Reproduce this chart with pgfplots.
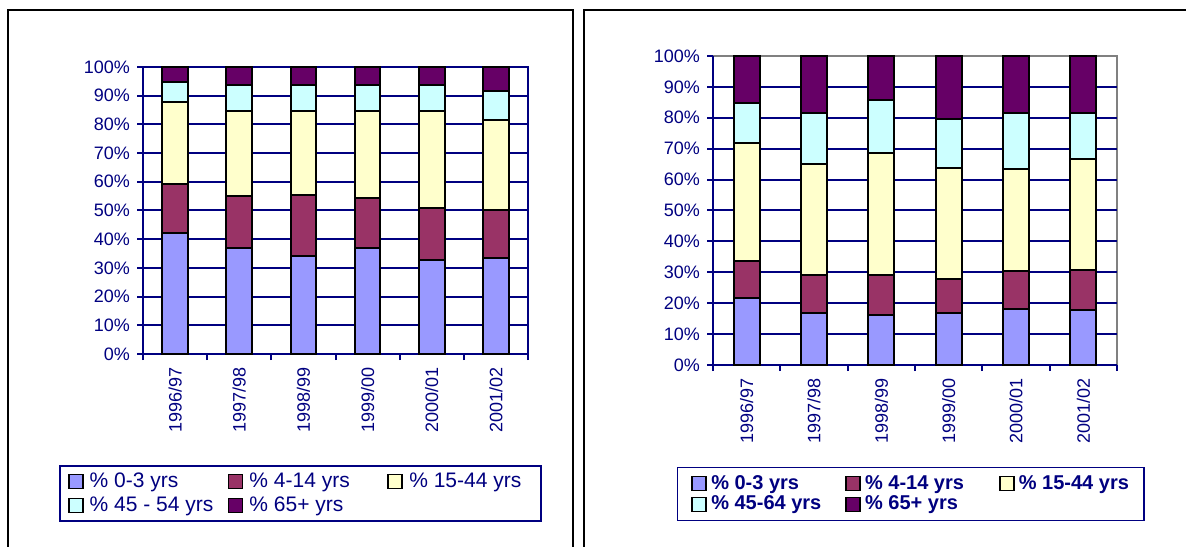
\documentclass[border=0pt]{standalone}
\usepackage{fontspec}
\setmainfont{Liberation Sans}
\usepackage{pgfplots}
\usepackage{pgfplotstable}
\pgfplotsset{compat=1.18}
\definecolor{navyc}{RGB}{0,0,128}
\definecolor{cA}{RGB}{153,153,255}
\definecolor{cB}{RGB}{153,51,102}
\definecolor{cC}{RGB}{255,255,204}
\definecolor{cD}{RGB}{204,255,255}
\definecolor{cE}{RGB}{102,0,102}

\pgfplotstableread{
x A B C D E
0 42.2 17.0 28.7 6.9 5.2
1 36.8 18.2 29.8 8.9 6.3
2 34.3 21.0 29.5 8.9 6.3
3 37.0 17.4 30.2 9.1 6.3
4 32.7 18.1 34.0 8.9 6.3
5 33.3 17.0 31.3 10.0 8.4
}\lefttable

\pgfplotstableread{
x A B C D E
0 21.6 12.0 38.4 12.9 15.1
1 16.9 12.1 35.9 16.8 18.3
2 16.1 13.1 39.4 17.0 14.4
3 16.7 11.1 36.1 15.7 20.4
4 18.0 12.3 33.2 18.2 18.3
5 17.8 13.0 36.0 14.9 18.3
}\righttable

\pgfplotsset{
 panel/.style={
  scale only axis,
  ybar stacked,
  ymin=0, ymax=100,
  xmin=-0.5, xmax=5.5,
  xtick={-0.5,0.5,...,5.5},
  x tick label as interval,
  xticklabels={1996/97,1997/98,1998/99,1999/00,2000/01,2001/02},
  ytick={0,10,...,100},
  yticklabels={0\%,10\%,20\%,30\%,40\%,50\%,60\%,70\%,80\%,90\%,100\%},
  xtick pos=bottom, ytick pos=left,
  ymajorgrids,
  grid style={navyc, line width=1pt},
  tick align=outside,
  major tick length=3pt,
  tick style={navyc, line width=1pt},
  axis line style={navyc, line width=1pt},
  ticklabel style={font=\fontsize{9}{10}\selectfont, text=navyc},
  x tick label style={rotate=90, anchor=east},
  /pgf/number format/assume math mode=true,
  every axis plot/.append style={draw=black, line width=1pt},
  legend image code/.code={\draw[##1, draw=black, line width=0.9pt] (0pt,-3.5pt) rectangle (7pt,3.5pt);},
  legend columns=3,
  legend cell align=left,
 }
}

\begin{document}
\begin{tikzpicture}
\useasboundingbox (0,0) rectangle (593pt,273pt);
\clip (0,0) rectangle (593pt,273pt);
\draw[black, line width=1pt] (4pt,-5pt) rectangle (286.25pt,268pt);
\draw[black, line width=1pt] (291.75pt,-5pt) rectangle (600pt,268pt);

\begin{axis}[panel,
  at={(71.5pt,96pt)}, anchor=south west,
  width=192.5pt, height=143.5pt,
  bar width=0.4,
  legend style={at={(-0.218,-0.387)}, anchor=north west, draw=navyc, line width=0.8pt,
    font=\fontsize{10.5}{12}\selectfont, text=navyc,
    inner xsep=4pt, inner ysep=1.8pt, nodes={inner xsep=1pt, inner ysep=1.6pt}},
]
\addplot[fill=cA] table[x=x,y=A]{\lefttable};
\addlegendentry{\makebox[70pt][l]{\hspace*{2pt}\% 0-3 yrs}}
\addplot[fill=cB] table[x=x,y=B]{\lefttable};
\addlegendentry{\makebox[70pt][l]{\hspace*{2pt}\% 4-14 yrs}}
\addplot[fill=cC] table[x=x,y=C]{\lefttable};
\addlegendentry{\makebox[63pt][l]{\hspace*{2pt}\% 15-44 yrs}}
\addplot[fill=cD] table[x=x,y=D]{\lefttable};
\addlegendentry{\makebox[70pt][l]{\hspace*{2pt}\% 45 - 54 yrs}}
\addplot[fill=cE] table[x=x,y=E]{\lefttable};
\addlegendentry{\hspace*{2pt}\% 65+ yrs}
\end{axis}

\begin{axis}[panel,
  at={(356.5pt,90.5pt)}, anchor=south west,
  width=202pt, height=154.5pt,
  bar width=0.39,
  axis x line*=bottom, axis y line*=left,
  axis background/.style={draw=gray, line width=1pt},
  ytick={0,10,...,90},
  yticklabels={0\%,10\%,20\%,30\%,40\%,50\%,60\%,70\%,80\%,90\%},
  extra y ticks={100}, extra y tick labels={100\%},
  extra y tick style={grid=none},
  legend style={at={(-0.0899,-0.329)}, anchor=north west, draw=navyc, line width=0.8pt,
    font=\fontsize{10}{11}\bfseries\selectfont, text=navyc,
    inner xsep=7pt, inner ysep=2.8pt, nodes={inner xsep=0.5pt, inner ysep=1pt}},
]
\addplot[fill=cA] table[x=x,y=A]{\righttable};
\addlegendentry{\makebox[68pt][l]{\hspace*{1.5pt}\% 0-3 yrs}}
\addplot[fill=cB] table[x=x,y=B]{\righttable};
\addlegendentry{\makebox[68pt][l]{\hspace*{1.5pt}\% 4-14 yrs}}
\addplot[fill=cC] table[x=x,y=C]{\righttable};
\addlegendentry{\hspace*{1.5pt}\% 15-44 yrs}
\addplot[fill=cD] table[x=x,y=D]{\righttable};
\addlegendentry{\makebox[68pt][l]{\hspace*{1.5pt}\% 45-64 yrs}}
\addplot[fill=cE] table[x=x,y=E]{\righttable};
\addlegendentry{\hspace*{1.5pt}\% 65+ yrs}
\end{axis}
\end{tikzpicture}
\end{document}
